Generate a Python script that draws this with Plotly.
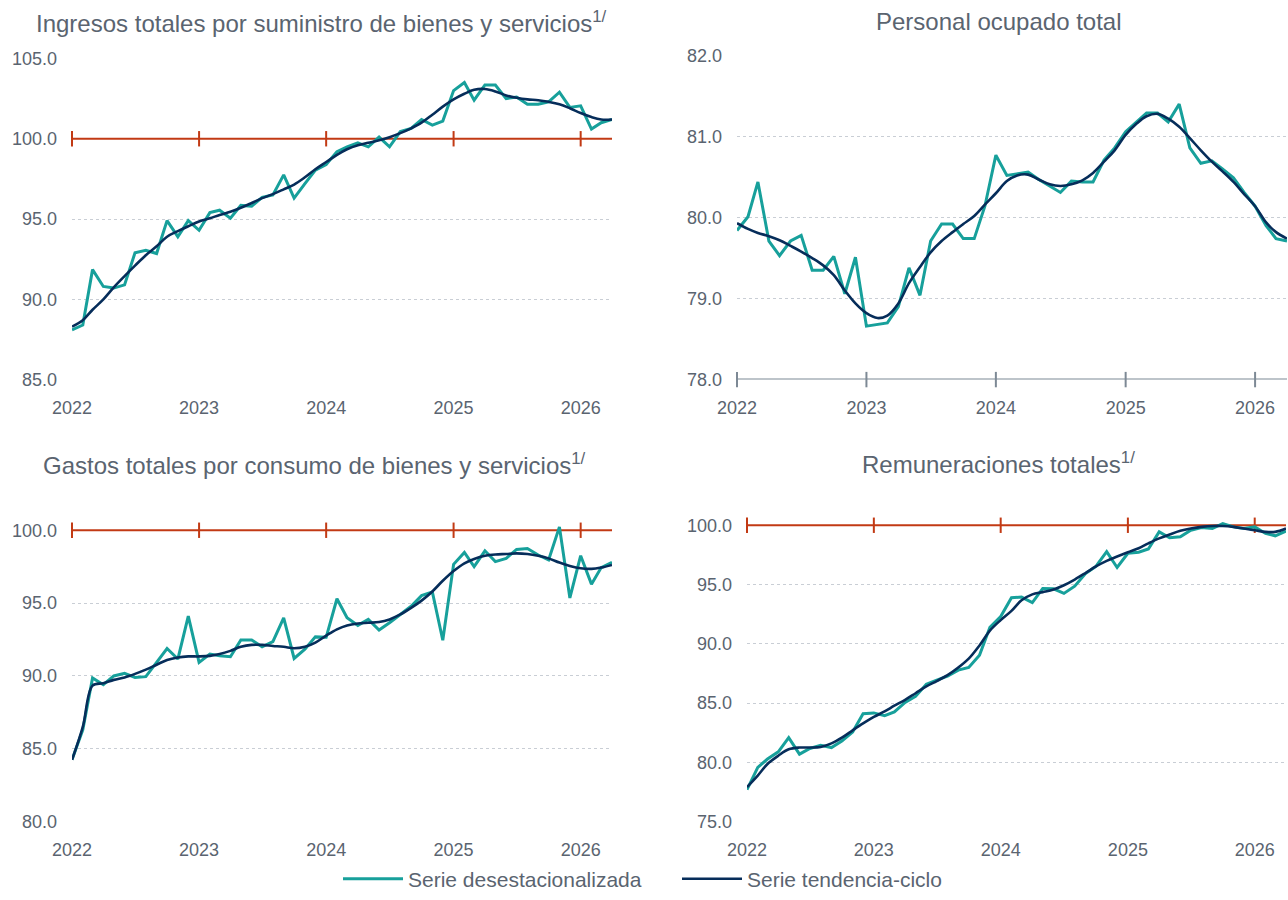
import pandas as pd
import plotly.graph_objects as go

dates = pd.date_range("2022-01-01", periods=52, freq="MS")
year_ticks = pd.to_datetime(["2022-01-01", "2023-01-01", "2024-01-01", "2025-01-01", "2026-01-01"])
year_labels = ["2022", "2023", "2024", "2025", "2026"]

titles = [
    "Ingresos totales por suministro de bienes y servicios<sup>1/</sup>",
    "Personal ocupado total",
    "Gastos totales por consumo de bienes y servicios<sup>1/</sup>",
    "Remuneraciones totales<sup>1/</sup>",
]
legend_names = ["Serie desestacionalizada", "Serie tendencia-ciclo"]

ing_sa = [88.1, 88.4, 91.85, 90.8, 90.7, 90.9, 92.9, 93.05, 92.85, 94.9, 93.9, 94.9,
          94.3, 95.4, 95.55, 95.05, 95.85, 95.8, 96.35, 96.5, 97.75, 96.3, 97.2, 98.05,
          98.4, 99.2, 99.5, 99.75, 99.5, 100.1, 99.5, 100.45, 100.65, 101.2, 100.85, 101.1,
          103.0, 103.5, 102.4, 103.35, 103.35, 102.5, 102.6, 102.15, 102.15, 102.3, 102.9, 101.95,
          102.05, 100.6, 101.0, 101.2]
ing_tc = [88.3, 88.7, 89.35, 90.0, 90.75, 91.45, 92.1, 92.75, 93.3, 93.9, 94.25, 94.55,
          94.85, 95.05, 95.25, 95.45, 95.7, 96.0, 96.3, 96.55, 96.85, 97.15, 97.6, 98.1,
          98.55, 99.0, 99.35, 99.6, 99.75, 99.9, 100.1, 100.35, 100.65, 101.0, 101.5, 102.0,
          102.45, 102.8, 103.05, 103.1, 102.95, 102.7, 102.55, 102.45, 102.4, 102.3, 102.15, 101.9,
          101.6, 101.35, 101.2, 101.2]

per_sa = [79.84, 80.01, 80.44, 79.71, 79.53, 79.71, 79.78, 79.35, 79.35, 79.52, 79.06, 79.51,
          78.66, 78.68, 78.70, 78.90, 79.38, 79.04, 79.71, 79.92, 79.92, 79.74, 79.74, 80.14,
          80.77, 80.52, 80.54, 80.56, 80.47, 80.39, 80.31, 80.45, 80.44, 80.44, 80.71, 80.86,
          81.06, 81.18, 81.29, 81.29, 81.18, 81.40, 80.86, 80.67, 80.70, 80.60, 80.49, 80.31,
          80.14, 79.90, 79.74, 79.71]
per_tc = [79.93, 79.86, 79.81, 79.77, 79.72, 79.65, 79.58, 79.50, 79.41, 79.29, 79.10, 78.94,
          78.82, 78.76, 78.79, 78.94, 79.19, 79.39, 79.57, 79.71, 79.82, 79.92, 80.02, 80.16,
          80.30, 80.45, 80.52, 80.53, 80.47, 80.41, 80.39, 80.41, 80.46, 80.55, 80.69, 80.83,
          81.02, 81.16, 81.25, 81.28, 81.22, 81.12, 80.98, 80.83, 80.69, 80.57, 80.44, 80.29,
          80.14, 79.94, 79.82, 79.74]

gas_sa = [84.24, 86.3, 89.86, 89.4, 90.0, 90.18, 89.9, 89.95, 90.93, 91.88, 91.16, 94.1,
          90.93, 91.5, 91.38, 91.32, 92.47, 92.47, 92.0, 92.36, 93.99, 91.2, 91.84, 92.68,
          92.65, 95.3, 93.99, 93.47, 93.88, 93.15, 93.65, 94.22, 94.78, 95.51, 95.76, 92.45,
          97.66, 98.48, 97.5, 98.59, 97.85, 98.07, 98.68, 98.75, 98.3, 97.96, 100.23, 95.35,
          98.25, 96.3, 97.44, 97.8]
gas_tc = [84.24, 86.5, 89.34, 89.5, 89.73, 89.9, 90.14, 90.43, 90.77, 91.1, 91.27, 91.34,
          91.34, 91.38, 91.5, 91.72, 92.0, 92.13, 92.13, 92.06, 92.0, 91.9, 92.0, 92.29,
          92.77, 93.2, 93.47, 93.6, 93.65, 93.7, 93.88, 94.22, 94.67, 95.17, 95.8, 96.53,
          97.2, 97.73, 98.03, 98.25, 98.34, 98.37, 98.41, 98.37, 98.25, 98.07, 97.78, 97.55,
          97.39, 97.35, 97.44, 97.62]

rem_sa = [77.7, 79.58, 80.28, 80.89, 82.08, 80.69, 81.17, 81.44, 81.25, 81.8, 82.56, 84.1,
          84.17, 83.94, 84.25, 85.06, 85.56, 86.58, 86.94, 87.28, 87.78, 88.0, 89.03, 91.39,
          92.3, 93.89, 93.94, 93.47, 94.67, 94.64, 94.25, 94.86, 95.92, 96.53, 97.78, 96.44,
          97.64, 97.72, 98.0, 99.44, 98.94, 99.03, 99.58, 99.8, 99.72, 100.14, 99.86, 99.72,
          99.86, 99.31, 99.11, 99.5]
rem_tc = [77.92, 78.89, 79.86, 80.56, 81.1, 81.25, 81.25, 81.3, 81.6, 82.08, 82.7, 83.28,
          83.83, 84.3, 84.78, 85.28, 85.83, 86.4, 86.86, 87.36, 88.0, 88.75, 89.86, 91.11,
          92.0, 92.78, 93.67, 94.17, 94.36, 94.58, 94.94, 95.42, 95.97, 96.53, 97.0, 97.36,
          97.72, 98.06, 98.47, 98.89, 99.22, 99.53, 99.72, 99.86, 99.94, 99.94, 99.86, 99.72,
          99.58, 99.44, 99.44, 99.72]

y_ranges = [[85, 105], [78, 82], [80, 101], [75, 101]]
y_ticks = [[85, 90, 95, 100, 105], [78, 79, 80, 81, 82], [80, 85, 90, 95, 100], [75, 80, 85, 90, 95, 100]]
baselines = [100, 78, 100, 100]

TEAL = "#17A09B"
NAVY = "#062D5A"
RED = "#C23A14"
AXGRAY = "#7D8995"
GRID = "#C9CED5"
TXT = "#5A6470"
FONT = "Liberation Sans, Arial, sans-serif"

W, H = 1288, 900
# plot areas in page pixels: (left, right, top, bottom)
areas = [(72, 612, 59, 383), (737, 1287, 56, 383), (72, 612, 520.3, 829), (747, 1286, 518, 829)]
title_pos = [(321, 22), (999, 22), (314, 468), (998, 467)]

series = [(ing_sa, ing_tc), (per_sa, per_tc), (gas_sa, gas_tc), (rem_sa, rem_tc)]


def px(v):
    return v / W


def py(v):
    return 1 - v / H


fig = go.Figure()
layout = dict(
    width=W, height=H,
    margin=dict(l=0, r=0, t=0, b=0),
    paper_bgcolor="white", plot_bgcolor="white",
    font=dict(family=FONT, color=TXT, size=18),
    showlegend=True,
    legend=dict(orientation="h", x=px(677), xanchor="center", y=py(887), yanchor="middle",
                font=dict(size=21, color=TXT), itemwidth=60, entrywidth=264,
                entrywidthmode="pixels", tracegroupgap=0, bgcolor="rgba(0,0,0,0)"),
    annotations=[],
)

for i, ((sa, tc), (l, r, t, b)) in enumerate(zip(series, areas)):
    n = "" if i == 0 else str(i + 1)
    xa, ya = "x" + n, "y" + n
    base = baselines[i]
    bcol = AXGRAY if i == 1 else RED
    fig.add_trace(go.Scatter(x=[dates[0], dates[-1]], y=[base, base], mode="lines",
                             line=dict(color=bcol, width=2), xaxis=xa, yaxis=ya,
                             showlegend=False, hoverinfo="skip", cliponaxis=False))
    fig.add_trace(go.Scatter(x=year_ticks, y=[base] * len(year_ticks), mode="markers",
                             marker=dict(symbol="line-ns", size=11, line=dict(color=bcol, width=2)),
                             xaxis=xa, yaxis=ya, showlegend=False, hoverinfo="skip",
                             cliponaxis=False))
    fig.add_trace(go.Scatter(x=dates, y=sa, mode="lines", name=legend_names[0],
                             line=dict(color=TEAL, width=3), xaxis=xa, yaxis=ya,
                             showlegend=(i == 0), legendgroup="sa"))
    fig.add_trace(go.Scatter(x=dates, y=tc, mode="lines", name=legend_names[1],
                             line=dict(color=NAVY, width=2.6, shape="spline"), xaxis=xa, yaxis=ya,
                             showlegend=(i == 0), legendgroup="tc"))

    layout["xaxis" + n] = dict(
        domain=[px(l), px(r)], anchor=ya, type="date",
        range=[dates[0], dates[-1]],
        tickvals=year_ticks, ticktext=year_labels,
        showgrid=False, zeroline=False, showline=False, ticks="",
        ticklabelstandoff=15, tickfont=dict(size=18, color=TXT), automargin=False,
        fixedrange=True,
    )
    layout["yaxis" + n] = dict(
        domain=[py(b), py(t)], anchor=xa,
        range=y_ranges[i], tickvals=y_ticks[i],
        ticktext=[f"{v:.1f}" for v in y_ticks[i]],
        showgrid=True, gridcolor=GRID, griddash="dot", gridwidth=1,
        zeroline=False, showline=False, ticks="",
        ticklabelstandoff=14, tickfont=dict(size=18, color=TXT), automargin=False,
        fixedrange=True,
    )
    tx, ty = title_pos[i]
    layout["annotations"].append(dict(
        text=titles[i], x=px(tx), y=py(ty), xref="paper", yref="paper",
        xanchor="center", yanchor="middle", showarrow=False,
        font=dict(size=24, color=TXT, family=FONT),
    ))

fig.update_layout(**layout)
fig.write_html(
    "out.html",
    config={"displayModeBar": False},
    post_script="document.body.style.margin='0';document.documentElement.style.overflow='hidden';",
)
